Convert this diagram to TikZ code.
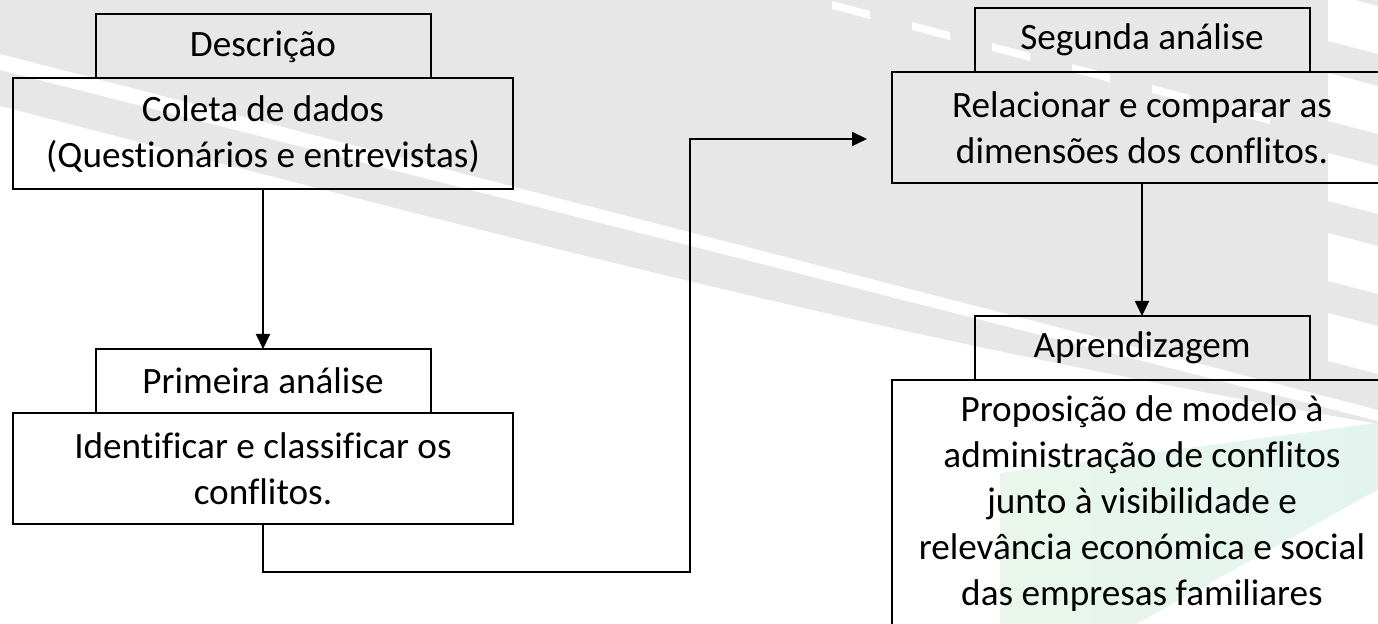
\documentclass[tikz,border=0pt]{standalone}
\usepackage{fontspec}
\setmainfont{Carlito}[Ligatures=NoCommon]
\usetikzlibrary{arrows.meta,positioning}

\definecolor{bggray}{RGB}{231,231,231}
\definecolor{mintleft}{RGB}{234,246,236}
\definecolor{mintright}{RGB}{224,243,240}

\tikzset{
  every stage/.style={draw, line width=1pt, outer sep=0pt, align=center,
    font=\fontsize{18.6pt}{23pt}\selectfont},
  stage body/.style={every stage, minimum width=250pt, minimum height=55.5pt},
  stage tab/.style={every stage, minimum width=167.5pt, minimum height=32pt},
}

\begin{document}
\begin{tikzpicture}[x=0.5pt, y=-0.5pt, >={Triangle[length=7.5pt,width=7pt]}]

\useasboundingbox (0,0) rectangle (1378,624);
\clip (0,0) rectangle (1378,624);

% background
\fill[bggray] (0,0) rectangle (1378,624);
\fill[white] (0,106) .. controls (600,262) and (900,340) .. (1378,424)
  -- (1378,624) -- (0,624) -- cycle;
\fill[white] (0,54) -- (1378,410) -- (1378,421) -- (0,70) -- cycle;
\foreach \k in {-1,...,5}
  \fill[white] (832+80*\k,1+21*\k) -- ++(38,10) -- ++(0,8) -- ++(-38,-10) -- cycle;
\foreach \k in {0,...,4}
  \fill[white] (1328,-7+80*\k) -- ++(50,13) -- ++(0,48) -- ++(-50,-13) -- cycle;
\shade[left color=mintleft, right color=mintright]
  (1000,473) -- (1535,402) -- (1000,700) -- cycle;

% stages
\node [stage body] (body-1) at (263,134)
  {Coleta de dados\\(Questionários e entrevistas)};
\node [stage body] (body-2) at (263,468.5)
  {Identificar e classificar os\\conflitos.};
\node [stage body] (body-3) at (1142,127.5)
  {Relacionar e comparar as\\dimensões dos conflitos.};
\node [stage body, minimum height=124pt] (body-4) at (1142,504)
  {Proposição de modelo à\\administração de conflitos\\junto à visibilidade e\\relevância económica e social\\das empresas familiares};

\foreach \t [count=\i] in {Descrição, Primeira análise, Segunda análise, Aprendizagem}
  \node [stage tab, above=0pt of body-\i] (tab-\i) {\t};

% connectors
\coordinate (turn) at (690,572);
\coordinate (entry) at (867,139);

\draw [->, line width=1pt] (body-1) -- (tab-2);
\draw [->, line width=1pt] (body-2.south) |- (turn) |- (entry);
\draw [->, line width=1pt] (body-3) -- (tab-4);

\end{tikzpicture}
\end{document}
